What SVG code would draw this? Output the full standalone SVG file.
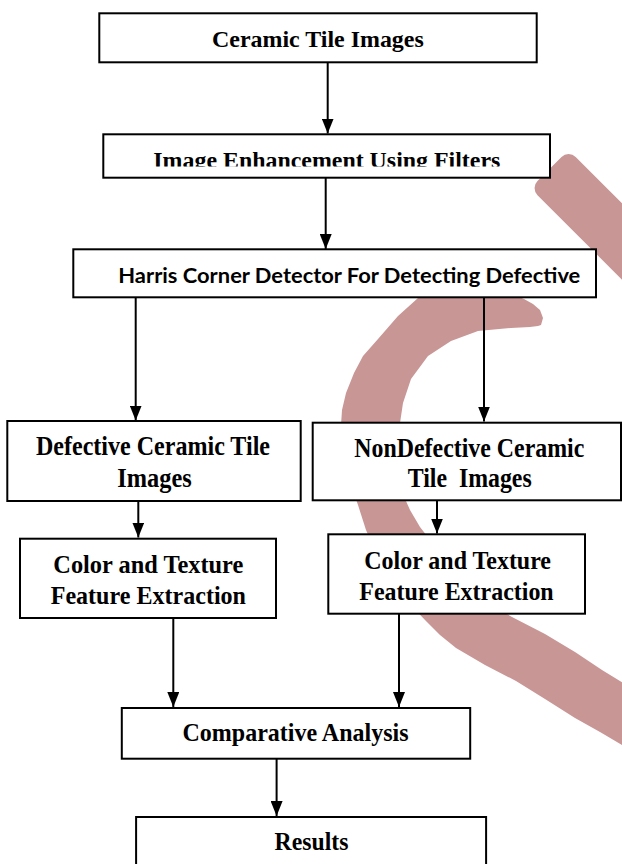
<svg xmlns="http://www.w3.org/2000/svg" width="622" height="864" viewBox="0 0 622 864">
<style>
.box{fill:#fff;stroke:#000;stroke-width:2}
.t{font-family:"Liberation Serif","Times New Roman",serif;font-weight:bold;fill:#000}
.c{font-family:Lato,"Open Sans",sans-serif;font-weight:bold;fill:#000}
.wm{fill:#C99696}
.ln{stroke:#000;stroke-width:2;fill:none;marker-end:url(#ah)}
</style>
<defs>
<marker id="ah" markerUnits="userSpaceOnUse" markerWidth="15" markerHeight="12" refX="15" refY="6" orient="auto">
<path d="M0,0 L15,6 L0,12 Z" fill="#000"/>
</marker>
<clipPath id="clip2"><rect x="100" y="130" width="460" height="36.5"/></clipPath>
</defs>
<g id="watermark">
<rect class="wm" x="549.5" y="142" width="260" height="54" rx="10" transform="rotate(45 549.5 169)"/>
<path class="wm" d="M541,325 L543,318 L540,310 L533,304 L524,299 L517,296 L505,255 L470,262 L440,280 L418,298 L398,316 L378,339 L363,356 L354,373 L346,393 L342,410 L341,425 L342,445 L346,468 L352,488 L358,505 L366,530 L377,555 L390,578 L406,600 L425,620 L440,635 L456,648 L485,665 L516,681 L545,699 L575,718 L600,732 L622,745 L680,778 L700,735 L650,697 L625,684 L602,670 L575,652 L545,634 L512,617 L483,600 L461,579 L445,563 L434,545 L420,527 L410,510 L402,492 L398,475 L397,455 L398,437 L400,423 L403,403 L411,379 L428,356 L451,341 L478,331 L511,328 L530,327 L538,326 Z"/>
</g>
<g id="connectors">
<line class="ln" x1="327.7" y1="62.3" x2="327.7" y2="133.5"/>
<line class="ln" x1="325.7" y1="177.7" x2="325.7" y2="249"/>
<line class="ln" x1="135.7" y1="297.3" x2="135.7" y2="420.5"/>
<line class="ln" x1="484" y1="297.3" x2="484" y2="421.5"/>
<line class="ln" x1="138.3" y1="501" x2="138.3" y2="537.5"/>
<line class="ln" x1="437" y1="500.3" x2="437" y2="533.5"/>
<line class="ln" x1="173.3" y1="618" x2="173.3" y2="707"/>
<line class="ln" x1="399" y1="613.7" x2="399" y2="707"/>
<line class="ln" x1="276.6" y1="758.7" x2="276.6" y2="816"/>
</g>
<g id="n1"><rect class="box" x="99.3" y="13.3" width="437.4" height="49"/>
<text class="t" x="317.9" y="46.7" font-size="24" text-anchor="middle" textLength="211.7" lengthAdjust="spacingAndGlyphs">Ceramic Tile Images</text></g>
<g id="n2"><rect class="box" x="103.3" y="134.3" width="446.7" height="43.4"/>
<text class="t" x="153.3" y="168" font-size="24" textLength="347" lengthAdjust="spacingAndGlyphs" clip-path="url(#clip2)">Image Enhancement Using Filters</text></g>
<g id="n3"><rect class="box" x="73.3" y="249.3" width="522.7" height="48"/>
<text class="c" x="118.3" y="283" font-size="20.5" textLength="462" lengthAdjust="spacingAndGlyphs">Harris Corner Detector For Detecting Defective</text></g>
<g id="n4"><rect class="box" x="7.3" y="421" width="293.4" height="80"/>
<text class="t" x="36" y="455" font-size="27" textLength="234" lengthAdjust="spacingAndGlyphs">Defective Ceramic Tile</text>
<text class="t" x="117.3" y="487" font-size="27" textLength="74.4" lengthAdjust="spacingAndGlyphs">Images</text></g>
<g id="n5"><rect class="box" x="312.7" y="422.7" width="308.3" height="77.6"/>
<text class="t" x="354.3" y="457" font-size="27" textLength="230" lengthAdjust="spacingAndGlyphs">NonDefective Ceramic</text>
<text class="t" x="407.7" y="487" font-size="27" textLength="124" lengthAdjust="spacingAndGlyphs" style="white-space:pre">Tile  Images</text></g>
<g id="n6"><rect class="box" x="20" y="538.7" width="256" height="79.3"/>
<text class="t" x="53.3" y="573" font-size="26" textLength="190" lengthAdjust="spacingAndGlyphs">Color and Texture</text>
<text class="t" x="50.7" y="604" font-size="26" textLength="195.3" lengthAdjust="spacingAndGlyphs">Feature Extraction</text></g>
<g id="n7"><rect class="box" x="328.3" y="534.3" width="256.7" height="79.4"/>
<text class="t" x="364.3" y="569" font-size="26" textLength="186.7" lengthAdjust="spacingAndGlyphs">Color and Texture</text>
<text class="t" x="359.3" y="600" font-size="26" textLength="194.4" lengthAdjust="spacingAndGlyphs">Feature Extraction</text></g>
<g id="n8"><rect class="box" x="121.8" y="708" width="348.4" height="50.7"/>
<text class="t" x="182.5" y="740.7" font-size="25" textLength="226" lengthAdjust="spacingAndGlyphs">Comparative Analysis</text></g>
<g id="n9"><rect class="box" x="136.1" y="817" width="350" height="60"/>
<text class="t" x="274.6" y="849.7" font-size="25" textLength="73.8" lengthAdjust="spacingAndGlyphs">Results</text></g>
</svg>
